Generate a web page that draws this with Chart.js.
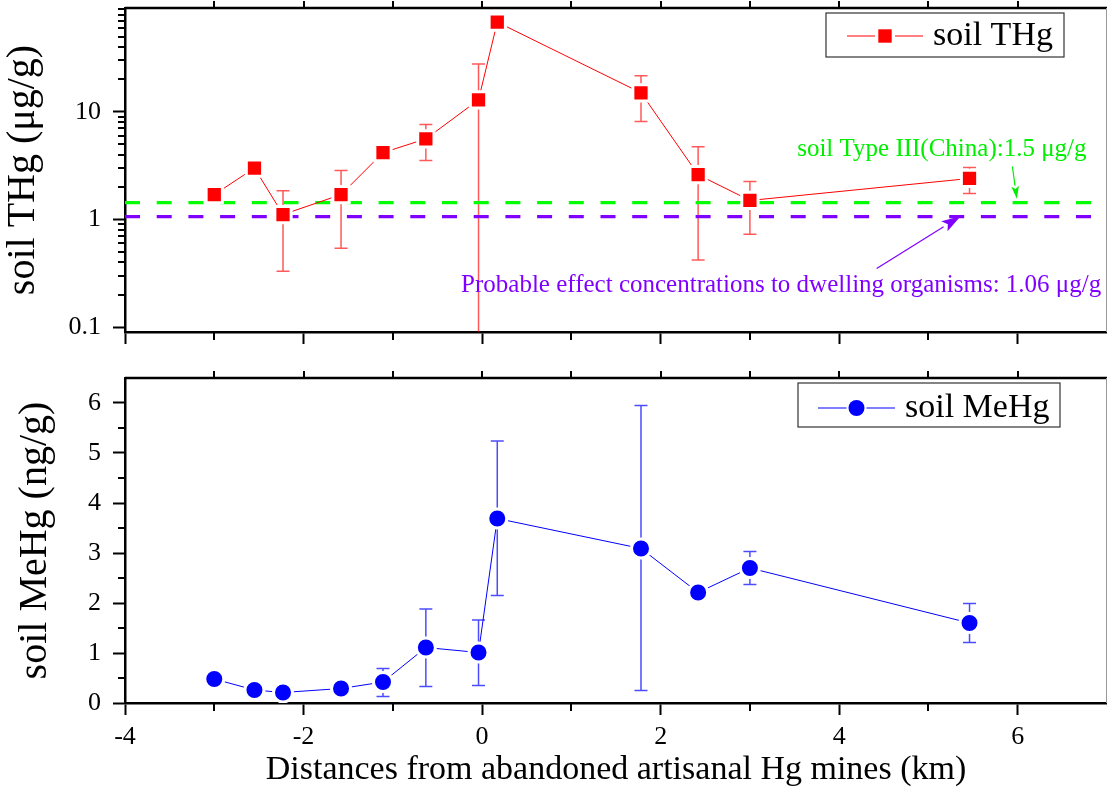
<!DOCTYPE html>
<html>
<head>
<meta charset="utf-8">
<script src="https://cdn.jsdelivr.net/npm/chart.js@4.4.1/dist/chart.umd.min.js"></script>
<style>
  body { margin: 0; background: #fff; }
  canvas { position: absolute; left: 0; }
  #thgChart { top: 0; }
  #mehgChart { top: 370px; }
</style>
</head>
<body>
<canvas id="thgChart" width="1107" height="345"></canvas>
<canvas id="mehgChart" width="1107" height="419"></canvas>
<script>
// distances (km) from the abandoned mines, shared by both panels
const distances = [-3.0, -2.55, -2.23, -1.58, -1.11, -0.63, -0.04, 0.17, 1.78, 2.42, 3.0, 5.46];

// soil THg (ug/g) with error bar ends
const thg     = [1.70, 3.0, 1.11, 1.70, 4.17, 5.6, 12.9, 68, 15.0, 2.6, 1.5, 2.4];
const thgHigh = [null, null, 1.85, 2.84, null, 7.6, 27.8, null, 21.6, 4.74, 2.25, 3.04];
const thgLow  = [null, null, 0.33, 0.54, null, 3.52, 0.01, null, 8.1, 0.42, 0.73, 1.74];

// soil MeHg (ng/g) with error bar ends
const mehg     = [0.48, 0.26, 0.21, 0.29, 0.42, 1.11, 1.01, 3.69, 3.09, 2.21, 2.70, 1.60];
const mehgHigh = [null, null, null, null, 0.69, 1.88, 1.66, 5.24, 5.95, null, 3.03, 1.99];
const mehgLow  = [null, null, null, null, 0.13, 0.33, 0.35, 2.15, 0.25, null, 2.37, 1.21];

// reference levels
const chinaLimit = 1.43;
const pecLimit = 1.06;

// tick labels
const xTicks = [-4, -2, 0, 2, 4, 6];
const xMinor = [-3, -1, 1, 3, 5];
const xTop = [-3, -2, -1, 0, 1, 2, 3, 4, 5, 6];
const thgTicks = [0.1, 1, 10];
const thgMinor = [0.2, 0.3, 0.4, 0.5, 0.6, 0.7, 0.8, 0.9, 2, 3, 4, 5, 6, 7, 8, 9, 20, 30, 40, 50, 60, 70, 80, 90];
const mehgTicks = [0, 1, 2, 3, 4, 5, 6];
const mehgMinor = [0.5, 1.5, 2.5, 3.5, 4.5, 5.5];

const serif = '"Liberation Serif", "Times New Roman", serif';

const toPoints = (ys) => distances.map((x, i) => ({ x: x, y: ys[i] }));
const setTicks = (vals) => (scale) => { scale.ticks = vals.map(v => ({ value: v })); };
const noPad = (s) => { s.paddingTop = 0; s.paddingBottom = 0; s.paddingLeft = 0; s.paddingRight = 0; };

// error bars, minor ticks, frame, legend and notes
const extras = {
  id: 'extras',
  beforeDatasetsDraw(chart, args, o) {
    const ctx = chart.ctx, a = chart.chartArea;
    const xs = chart.scales.x, ys = chart.scales.y;
    ctx.save();
    ctx.beginPath();
    ctx.rect(a.left, a.top, a.right - a.left, a.bottom - a.top);
    ctx.clip();
    ctx.strokeStyle = o.errColor;
    ctx.lineWidth = 1.5;
    distances.forEach((d, i) => {
      if (o.high[i] == null) return;
      const px = xs.getPixelForValue(d);
      const top = ys.getPixelForValue(o.high[i]);
      const bot = ys.getPixelForValue(o.low[i]);
      ctx.beginPath();
      ctx.moveTo(px, top); ctx.lineTo(px, bot);
      ctx.moveTo(px - 6.5, top); ctx.lineTo(px + 6.5, top);
      ctx.moveTo(px - 6.5, bot); ctx.lineTo(px + 6.5, bot);
      ctx.stroke();
    });
    ctx.restore();
  },
  afterDraw(chart, args, o) {
    const ctx = chart.ctx, a = chart.chartArea;
    const xs = chart.scales.x, ys = chart.scales.y;
    ctx.save();
    ctx.strokeStyle = '#000';
    ctx.lineWidth = 2;
    ctx.beginPath();
    xMinor.forEach(v => {
      const px = Math.round(xs.getPixelForValue(v));
      ctx.moveTo(px, a.bottom); ctx.lineTo(px, a.bottom + 8);
    });
    xTop.forEach(v => {
      const px = Math.round(xs.getPixelForValue(v));
      ctx.moveTo(px, a.top); ctx.lineTo(px, a.top - 7);
    });
    o.yMinor.forEach(v => {
      const py = Math.round(ys.getPixelForValue(v));
      if (py < a.top + 1 || py > a.bottom) return;
      ctx.moveTo(a.left, py); ctx.lineTo(a.left - 7, py);
    });
    ctx.stroke();
    // top and right frame
    ctx.lineWidth = 2.5;
    ctx.beginPath();
    ctx.moveTo(a.left, a.top); ctx.lineTo(a.right, a.top);
    ctx.stroke();
    ctx.strokeStyle = '#999';
    ctx.lineWidth = 1;
    ctx.beginPath();
    ctx.moveTo(a.right - 0.5, a.top); ctx.lineTo(a.right - 0.5, a.bottom);
    ctx.stroke();

    // legend
    const L = o.legend;
    ctx.strokeStyle = '#333';
    ctx.lineWidth = 1.2;
    ctx.strokeRect(L.box[0], L.box[1], L.box[2] - L.box[0], L.box[3] - L.box[1]);
    ctx.strokeStyle = L.color;
    ctx.lineWidth = 1;
    ctx.beginPath();
    ctx.moveTo(L.line[0], L.y); ctx.lineTo(L.line[1], L.y);
    ctx.stroke();
    const mx = (L.line[0] + L.line[1]) / 2;
    ctx.fillStyle = '#fff';
    ctx.fillRect(mx - 10, L.y - 10, 20, 20);
    ctx.fillStyle = L.color;
    if (L.marker === 'rect') {
      ctx.fillRect(mx - 6.7, L.y - 6.7, 13.4, 13.4);
    } else {
      ctx.beginPath(); ctx.arc(mx, L.y, 8, 0, Math.PI * 2); ctx.fill();
    }
    ctx.fillStyle = '#000';
    ctx.font = '34px ' + serif;
    ctx.textBaseline = 'middle';
    ctx.textAlign = 'left';
    ctx.fillText(L.text, L.textX, L.y);

    // notes and arrows in data coordinates
    (o.notes || []).forEach(n => {
      ctx.fillStyle = n.color;
      ctx.font = '25px ' + serif;
      ctx.textAlign = 'center';
      ctx.textBaseline = 'middle';
      ctx.fillText(n.text, xs.getPixelForValue(n.x), ys.getPixelForValue(n.y));
    });
    (o.arrows || []).forEach(ar => {
      const x1 = xs.getPixelForValue(ar.from[0]), y1 = ys.getPixelForValue(ar.from[1]);
      const x2 = xs.getPixelForValue(ar.to[0]), y2 = ys.getPixelForValue(ar.to[1]);
      const ang = Math.atan2(y2 - y1, x2 - x1);
      ctx.strokeStyle = ar.color;
      ctx.fillStyle = ar.color;
      ctx.lineWidth = 1.2;
      ctx.beginPath();
      ctx.moveTo(x1, y1);
      ctx.lineTo(x2 - Math.cos(ang) * ar.head, y2 - Math.sin(ang) * ar.head);
      ctx.stroke();
      ctx.beginPath();
      ctx.moveTo(x2, y2);
      ctx.lineTo(x2 - Math.cos(ang - 0.3) * ar.head, y2 - Math.sin(ang - 0.3) * ar.head);
      ctx.lineTo(x2 - Math.cos(ang) * ar.head * 0.75, y2 - Math.sin(ang) * ar.head * 0.75);
      ctx.lineTo(x2 - Math.cos(ang + 0.3) * ar.head, y2 - Math.sin(ang + 0.3) * ar.head);
      ctx.closePath();
      ctx.fill();
    });
    ctx.restore();
  }
};

function xScale(showLabels) {
  return {
    type: 'linear', min: -4, max: 7,
    afterBuildTicks: setTicks(xTicks),
    ticks: {
      display: showLabels, color: '#000', padding: 7, maxRotation: 0,
      font: { family: serif, size: 26 }
    },
    grid: { drawOnChartArea: false, tickLength: 12, tickWidth: 2, tickColor: '#000' },
    border: { color: '#000', width: 2.5 },
    title: {
      display: showLabels, text: 'Distances from abandoned artisanal Hg mines (km)',
      color: '#000', font: { family: serif, size: 34, lineHeight: 1 }, padding: { top: 0, bottom: 2 }
    },
    afterFit: (s) => { noPad(s); s.height = showLabels ? 86 : 13; }
  };
}

function yScale(extra) {
  return Object.assign({
    ticks: { color: '#000', padding: 12, font: { family: serif, size: 26 }, callback: (v) => String(v) },
    grid: { drawOnChartArea: false, tickLength: 12, tickWidth: 2, tickColor: '#000' },
    border: { color: '#000', width: 2.5 },
    afterFit: (s) => { noPad(s); s.width = 125; }
  }, extra);
}

const common = {
  responsive: false,
  animation: false,
  events: [],
  layout: { autoPadding: false, padding: { top: 8, right: 0, bottom: 0, left: 0 } }
};

new Chart(document.getElementById('thgChart'), {
  type: 'line',
  data: {
    datasets: [
      {
        label: 'soil THg', data: toPoints(thg), order: 0,
        borderColor: '#ff0000', backgroundColor: '#ff0000', borderWidth: 1,
        pointStyle: 'rect', pointRadius: 11.5, pointBorderColor: '#fff', pointBorderWidth: 3
      },
      {
        data: [{ x: -4, y: chinaLimit }, { x: 7, y: chinaLimit }], order: 1,
        borderColor: '#00ff00', borderWidth: 3.2, borderDash: [15, 16.7], pointRadius: 0
      },
      {
        data: [{ x: -4, y: pecLimit }, { x: 7, y: pecLimit }], order: 1,
        borderColor: '#8000ff', borderWidth: 3.2, borderDash: [15, 16.7], pointRadius: 0
      }
    ]
  },
  options: Object.assign({}, common, {
    plugins: {
      legend: { display: false },
      tooltip: { enabled: false },
      extras: {
        high: thgHigh, low: thgLow, errColor: 'rgba(255,0,0,0.65)', yMinor: thgMinor,
        legend: { box: [826, 13, 1064, 57], line: [847, 923], y: 36, marker: 'rect', color: '#ff0000', text: 'soil THg', textX: 933 },
        notes: [
          { text: 'soil Type III(China):1.5 \u03bcg/g', x: 5.15, y: 4.5, color: '#00ee00' },
          { text: 'Probable effect concentrations to dwelling organisms: 1.06 \u03bcg/g', x: 3.35, y: 0.245, color: '#8000ff' }
        ],
        arrows: [
          { from: [5.94, 3.1], to: [5.99, 1.56], color: '#00ee00', head: 13 },
          { from: [4.42, 0.35], to: [5.36, 1.07], color: '#8000ff', head: 20 }
        ]
      }
    },
    scales: {
      x: xScale(false),
      y: yScale({
        type: 'logarithmic', min: 0.09, max: 92,
        afterBuildTicks: setTicks(thgTicks),
        title: { display: true, text: 'soil THg (\u03bcg/g)', color: '#000', font: { family: serif, size: 40, lineHeight: 1 }, padding: { top: 3 } }
      })
    }
  }),
  plugins: [extras]
});

new Chart(document.getElementById('mehgChart'), {
  type: 'line',
  data: {
    datasets: [
      {
        label: 'soil MeHg', data: toPoints(mehg),
        borderColor: '#0000ff', backgroundColor: '#0000ff', borderWidth: 1,
        pointStyle: 'circle', pointRadius: 9.5, pointBorderColor: '#fff', pointBorderWidth: 3
      }
    ]
  },
  options: Object.assign({}, common, {
    plugins: {
      legend: { display: false },
      tooltip: { enabled: false },
      extras: {
        high: mehgHigh, low: mehgLow, errColor: 'rgba(0,0,255,0.7)', yMinor: mehgMinor,
        legend: { box: [798, 13, 1060, 57], line: [818, 895], y: 38, marker: 'circle', color: '#0000ff', text: 'soil MeHg', textX: 905 }
      }
    },
    scales: {
      x: xScale(true),
      y: yScale({
        type: 'linear', min: 0, max: 6.5,
        afterBuildTicks: setTicks(mehgTicks),
        title: { display: true, text: 'soil MeHg (ng/g)', color: '#000', font: { family: serif, size: 40, lineHeight: 1 }, padding: { top: 15 } }
      })
    }
  }),
  plugins: [extras]
});
</script>
</body>
</html>
